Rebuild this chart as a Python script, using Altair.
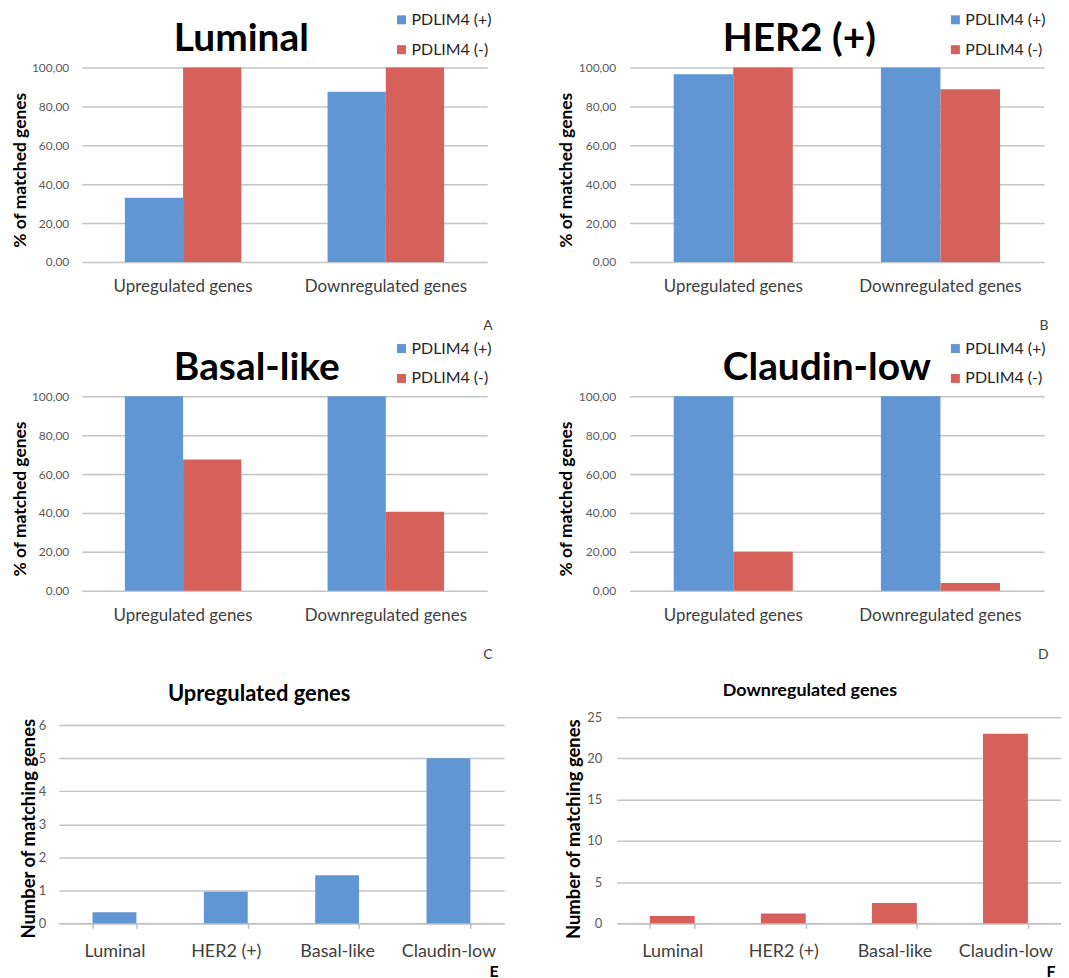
import altair as alt
import pandas as pd

# ---------------- data ----------------
categories = ["Upregulated genes", "Downregulated genes"]
series = ["PDLIM4 (+)", "PDLIM4 (-)"]

luminal_pos = [33.0, 87.6]
luminal_neg = [100.0, 100.0]
her2_pos = [96.6, 100.0]
her2_neg = [100.0, 88.9]
basal_pos = [100.0, 100.0]
basal_neg = [67.5, 40.6]
claudin_pos = [100.0, 100.0]
claudin_neg = [20.0, 3.9]

subtypes = ["Luminal", "HER2 (+)", "Basal-like", "Claudin-low"]
up_counts = [0.34, 0.96, 1.46, 5.0]
down_counts = [0.88, 1.21, 2.46, 23.0]

BLUE = "#5f96d3"
RED = "#d6605a"
GRID = "#c4c4c4"
FONT = "Lato"


def title_axis(title, title_x, title_y, size):
    return alt.Axis(orient="top", title=title, titleX=title_x, titleY=title_y,
                    titleAlign="left", titleBaseline="alphabetic",
                    titleFontSize=size, titleFontWeight="bold",
                    titleColor="black", titleFont=FONT, labels=False,
                    ticks=False, domain=False, grid=False)


def pct_panel(title, pos, neg, width, xrange, ylabel_pad, ytitle_x, title_x,
              legend_x, letter, letter_x):
    df = pd.DataFrame({
        "category": categories * 2,
        "series": [series[0]] * len(pos) + [series[1]] * len(neg),
        "value": pos + neg,
    })
    bars = alt.Chart(df).mark_bar().encode(
        x=alt.X("category:N", sort=categories,
                scale=alt.Scale(range=xrange, paddingInner=0, paddingOuter=0),
                axis=alt.Axis(title=letter, titleX=letter_x, titleY=68,
                              titleAlign="right", titleBaseline="alphabetic",
                              titleFontSize=14, titleFontWeight="normal",
                              titleColor="#404040", labelAngle=0,
                              labelFontSize=17, labelColor="#404040",
                              labelPadding=17, ticks=False, domain=False,
                              grid=False)),
        xOffset=alt.XOffset("series:N", sort=series,
                            scale=alt.Scale(paddingInner=0, paddingOuter=0.74)),
        y=alt.Y("value:Q", scale=alt.Scale(domain=[0, 100], nice=False),
                axis=alt.Axis(values=[0, 20, 40, 60, 80, 100],
                              labelExpr="replace(format(datum.value, '.2f'), '.', ',')",
                              title="% of matched genes", titleFontSize=17.5,
                              titleFontWeight="bold", titleColor="black",
                              titleX=ytitle_x, titleY=102.5,
                              titleAlign="center", titleBaseline="middle",
                              labelFontSize=12, labelColor="#595959",
                              labelPadding=ylabel_pad, ticks=False, domain=False,
                              grid=True, gridColor=GRID, gridWidth=1.5)),
        color=alt.Color("series:N", sort=series,
                        scale=alt.Scale(domain=series, range=[BLUE, RED]),
                        legend=alt.Legend(title=None, orient="none",
                                          legendX=legend_x, legendY=-56,
                                          symbolType="square", symbolSize=81,
                                          symbolStrokeWidth=0, labelFontSize=16,
                                          labelColor="#262626", rowPadding=14,
                                          labelOffset=2, padding=0,
                                          direction="vertical")),
    )
    title_layer = alt.Chart(df).mark_bar(opacity=0).encode(
        x=alt.X("category:N", sort=categories,
                axis=title_axis(title, title_x, -17, 39)),
    )
    return alt.layer(bars, title_layer).resolve_axis(x="independent").properties(
        width=width, height=195)


def count_panel(title, values, color, width, height, ydomain, yrange, yvalues,
                ylabel_pad, ytitle_x, ytitle_y, title_x, title_size, title_y,
                pad_inner, letter):
    df = pd.DataFrame({"subtype": subtypes, "count": values})
    yscale = alt.Scale(domain=ydomain, nice=False)
    if yrange is not None:
        yscale = alt.Scale(domain=ydomain, nice=False, range=yrange)
    bars = alt.Chart(df).mark_bar(color=color).encode(
        x=alt.X("subtype:N", sort=subtypes,
                scale=alt.Scale(paddingInner=pad_inner, paddingOuter=pad_inner / 2),
                axis=alt.Axis(title=letter, titleX=width - 6, titleY=53,
                              titleAlign="right", titleBaseline="alphabetic",
                              titleFontSize=16, titleFontWeight="bold",
                              titleColor="black", labelAngle=0,
                              labelFontSize=18, labelColor="#404040",
                              labelPadding=14, ticks=True, tickBand="extent",
                              tickSize=5, tickColor="#bfbfbf", tickWidth=1.5,
                              domain=True, domainColor="#bfbfbf",
                              domainWidth=1.5, grid=False)),
        y=alt.Y("count:Q", scale=yscale,
                axis=alt.Axis(values=yvalues, title="Number of matching genes",
                              titleFontSize=18.5, titleFontWeight="bold",
                              titleColor="black", titleX=ytitle_x,
                              titleY=ytitle_y, titleAlign="center",
                              titleBaseline="middle", labelFontSize=13,
                              labelColor="#595959", labelPadding=ylabel_pad,
                              ticks=False, domain=False, grid=True,
                              gridColor=GRID, gridWidth=1.5)),
    )
    title_layer = alt.Chart(df).mark_bar(opacity=0).encode(
        x=alt.X("subtype:N", sort=subtypes,
                axis=title_axis(title, title_x, title_y, title_size)),
    )
    return alt.layer(bars, title_layer).resolve_axis(x="independent").properties(
        width=width, height=height)


# column 1 starts at the left edge of panel E, column 2 at the left edge of panel F
A = pct_panel("Luminal", luminal_pos, luminal_neg, 430, [23, 430], -10, -38.5,
              115, 336, "A", 435)
B = pct_panel("HER2 (+)", her2_pos, her2_neg, 429, [13, 429], 1, -50.5,
              106, 332, "B", 433)
C = pct_panel("Basal-like", basal_pos, basal_neg, 430, [23, 430], -10, -38.5,
              115, 336, "C", 435)
D = pct_panel("Claudin-low", claudin_pos, claudin_neg, 429, [13, 429], 1, -50.5,
              106, 332, "D", 433)

E = count_panel("Upregulated genes", up_counts, BLUE, 447, 199, [0, 6], None,
                [0, 1, 2, 3, 4, 5, 6], 13, -30.5, 103.5, 109, 22, -25, 0.606, "E")
F = count_panel("Downregulated genes", down_counts, RED, 446, 199, [0, 25], [199, -8],
                [0, 5, 10, 15, 20, 25], 15, -43.5, 104, 106, 18, -30, 0.596, "F")

chart = alt.concat(
    A, B, C, D, E, F, columns=2, spacing={"row": 135, "column": 113}, bounds="flush"
).resolve_scale(
    color="independent", xOffset="independent"
).properties(
    padding={"left": 3, "top": 2, "right": 0, "bottom": 0}
).configure(
    font=FONT,
).configure_view(
    stroke=None,
)

chart.save("out.html", embed_options={"renderer": "svg", "actions": False})
